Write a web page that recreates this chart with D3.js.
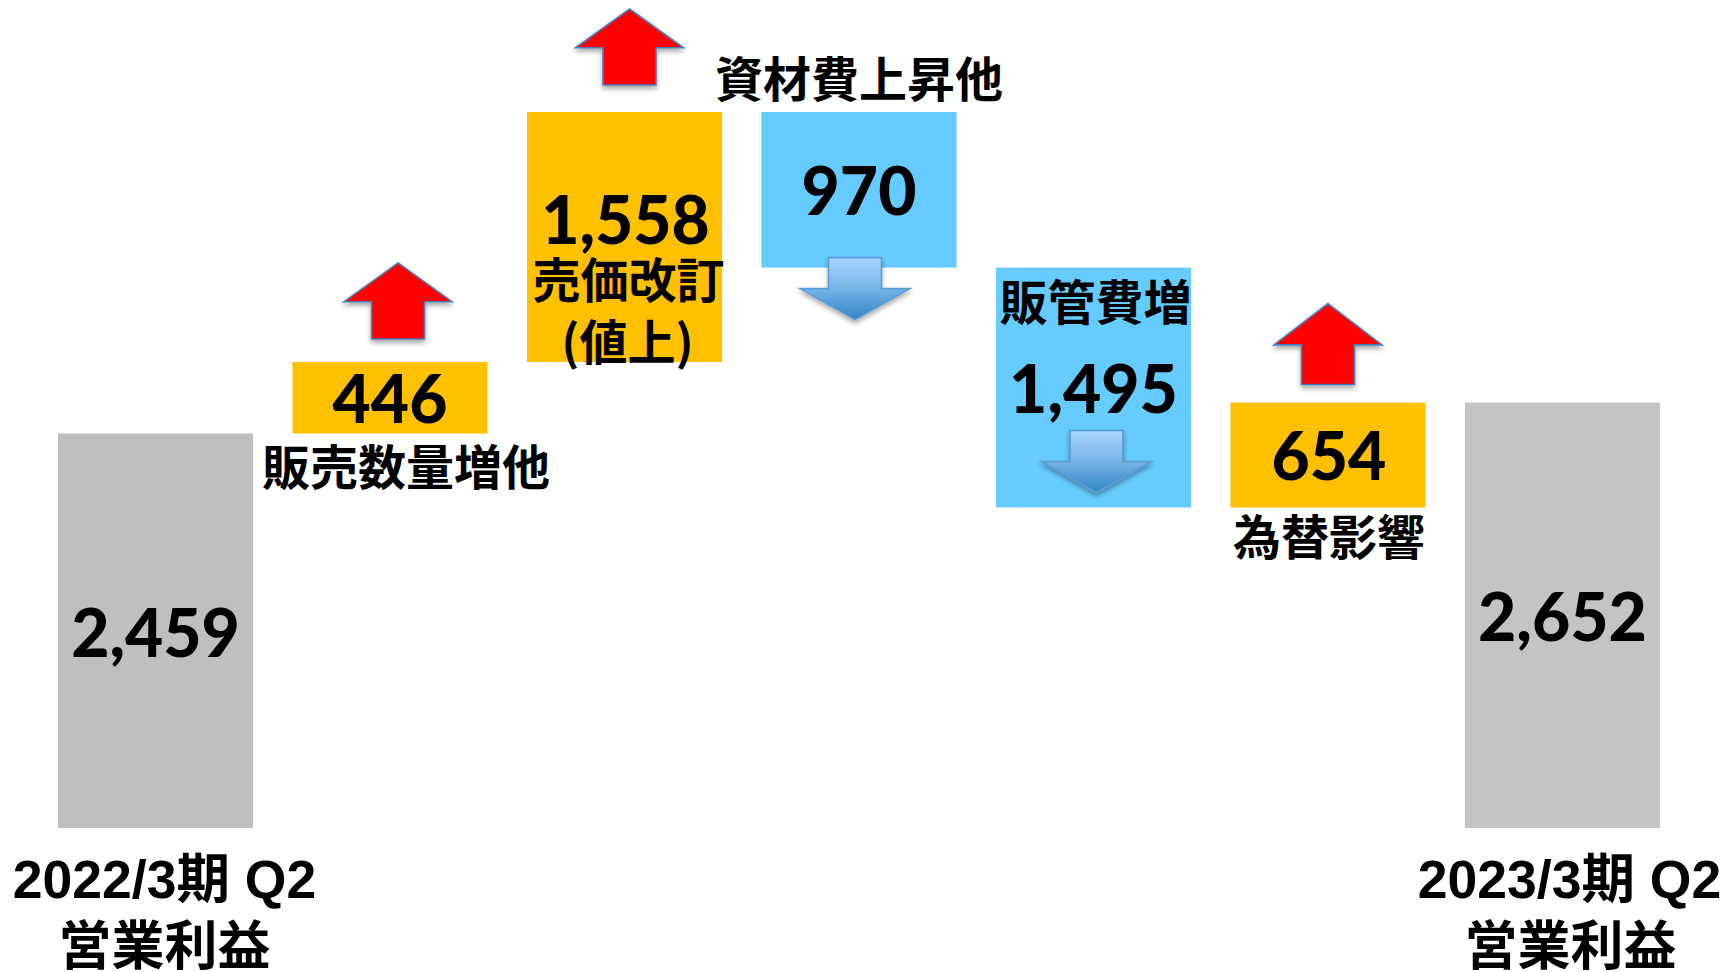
<!DOCTYPE html>
<html>
<head>
<meta charset="utf-8">
<script src="https://cdn.jsdelivr.net/npm/d3@7"></script>
<style>
  html, body { margin: 0; padding: 0; background: #ffffff; }
  svg { display: block; }
</style>
</head>
<body>
<svg id="chart" width="1726" height="972"></svg>
<script>
// ---------------- DATA ----------------
const categories = ["start", "volume", "price", "material", "sga", "fx", "end"];
const values     = [2459, 446, 1558, -970, -1495, 654, 2652];
const kinds      = ["total", "inc", "inc", "dec", "dec", "inc", "total"];
const valueLabels = ["2,459", "446", "1,558", "970", "1,495", "654", "2,652"];
const catLabels = [
  ["2022/3期 Q2", "営業利益"],
  ["販売数量増他"],
  ["売価改訂", "(値上)"],
  ["資材費上昇他"],
  ["販管費増"],
  ["為替影響"],
  ["2023/3期 Q2", "営業利益"]
];

// ---------------- LAYOUT ----------------
const W = 1726, H = 972;
const colors = { total: "#BFBFBF", totalEnd: "#C4C4C4", inc: "#FFC000", dec: "#66CCFF" };
const numFont = "Lato, 'Open Sans', sans-serif";
const cjkFont = "'Noto Sans CJK JP', 'Noto Sans', sans-serif";
const axisFont = "'Liberation Sans', Arial, 'Noto Sans CJK JP', sans-serif";

// compute waterfall segments
let run = 0;
const bars = categories.map((c, i) => {
  let y0, y1;
  if (kinds[i] === "total") { y0 = 0; y1 = values[i]; run = values[i]; }
  else { y0 = run; y1 = run + values[i]; run = y1; }
  return { cat: c, i, kind: kinds[i], lo: Math.min(y0, y1), hi: Math.max(y0, y1), label: valueLabels[i], text: catLabels[i] };
});
const maxV = d3.max(bars, d => d.hi);

const x = d3.scaleBand().domain(categories).range([58, 1660]).paddingInner(0.168).paddingOuter(0);
const y = d3.scaleLinear().domain([0, maxV]).range([828, 112]);

const svg = d3.select("#chart");
const defs = svg.append("defs");

const shadow = defs.append("filter").attr("id", "shadow").attr("x", "-30%").attr("y", "-30%").attr("width", "160%").attr("height", "170%");
shadow.append("feDropShadow").attr("dx", 0).attr("dy", 3).attr("stdDeviation", 2.5)
  .attr("flood-color", "#000").attr("flood-opacity", 0.35);

const grad = defs.append("linearGradient").attr("id", "blueGrad").attr("x1", 0).attr("y1", 0).attr("x2", 0).attr("y2", 1);
grad.append("stop").attr("offset", "0%").attr("stop-color", "#A8D4FF");
grad.append("stop").attr("offset", "45%").attr("stop-color", "#7DB8EA");
grad.append("stop").attr("offset", "100%").attr("stop-color", "#2F86C3");

// bars
svg.append("g").selectAll("rect").data(bars).join("rect")
  .attr("x", d => x(d.cat))
  .attr("y", d => y(d.hi))
  .attr("width", x.bandwidth())
  .attr("height", d => y(d.lo) - y(d.hi))
  .attr("fill", d => d.kind === "total" ? (d.i === 0 ? colors.total : colors.totalEnd) : colors[d.kind]);

// arrows (annotation layout)
const arrowLayout = {
  volume:   { dir: "up",   dx: 8,  off: 23, h: 76 },
  price:    { dir: "up",   dx: 5,  off: 27, h: 76 },
  material: { dir: "down", dx: -4, off: 10 },
  sga:      { dir: "down", dx: 3,  off: 77 },
  fx:       { dir: "up",   dx: 0,  off: 18, h: 81 }
};
function upArrow(cx, bottom, Ht) {
  const hh = Ht * 0.51, hw = 108, sw = 53, t = bottom - Ht;
  return `M${cx},${t} L${cx + hw/2},${t + hh} L${cx + sw/2},${t + hh} L${cx + sw/2},${bottom} L${cx - sw/2},${bottom} L${cx - sw/2},${t + hh} L${cx - hw/2},${t + hh} Z`;
}
function downArrow(cx, top) {
  const sh = 31, hh = 31, hw = 110, sw = 53;
  return `M${cx - sw/2},${top} L${cx + sw/2},${top} L${cx + sw/2},${top + sh} L${cx + hw/2},${top + sh} L${cx},${top + sh + hh} L${cx - hw/2},${top + sh} L${cx - sw/2},${top + sh} Z`;
}
const arrowData = bars.filter(d => arrowLayout[d.cat]);
svg.append("g").selectAll("path").data(arrowData).join("path")
  .attr("d", d => {
    const a = arrowLayout[d.cat];
    const cx = x(d.cat) + x.bandwidth() / 2 + a.dx;
    return a.dir === "up" ? upArrow(cx, y(d.hi) - a.off, a.h) : downArrow(cx, y(d.lo) - a.off);
  })
  .attr("fill", d => arrowLayout[d.cat].dir === "up" ? "#FF0000" : "url(#blueGrad)")
  .attr("stroke", d => arrowLayout[d.cat].dir === "up" ? "#4A7EBB" : "#5B9BD5")
  .attr("stroke-width", 1.6)
  .attr("filter", "url(#shadow)");

// text helpers: place by visual centre
const numSize = 66, cjkSize = 48;
function addText(g, str, cx, cy, size, family, ratio, weight) {
  g.append("text")
    .attr("x", cx).attr("y", cy + size * ratio)
    .attr("text-anchor", "middle")
    .attr("font-family", family).attr("font-weight", weight || 700)
    .attr("font-size", size).attr("fill", "#000")
    .text(str);
}
const tg = svg.append("g");
bars.forEach(d => {
  const cx = x(d.cat) + x.bandwidth() / 2;
  const top = y(d.hi), bot = y(d.lo), mid = (top + bot) / 2;
  const num = (s, xx, yy) => addText(tg, s, xx, yy, numSize, numFont, 0.36, 900);
  if (d.kind === "total") {
    num(d.label, cx, mid + 2);
    const o1 = d.i === 0 ? 9 : 7, o2 = d.i === 0 ? 9 : 8;
    addText(tg, d.text[0], cx + o1, 879, 53.5, axisFont, 0.36);
    addText(tg, d.text[1], cx + o2, 945, 53, cjkFont, 0.37);
  } else if (d.cat === "volume") {
    num(d.label, cx, mid + 2);
    addText(tg, d.text[0], cx + 16, bot + 34, cjkSize, cjkFont, 0.37);
  } else if (d.cat === "price") {
    num(d.label, cx + 1, bot - 142);
    addText(tg, d.text[0], cx + 4, bot - 82, cjkSize, cjkFont, 0.37);
    addText(tg, d.text[1], cx + 3, bot - 20, cjkSize, cjkFont, 0.37);
  } else if (d.cat === "material") {
    num(d.label, cx, mid + 1);
    addText(tg, d.text[0], cx, top - 33, cjkSize, cjkFont, 0.37);
  } else if (d.cat === "sga") {
    num(d.label, cx, mid + 2);
    addText(tg, d.text[0], cx + 2, top + 35, cjkSize, cjkFont, 0.37);
  } else if (d.cat === "fx") {
    num(d.label, cx + 1, mid + 1);
    addText(tg, d.text[0], cx + 1, bot + 30, cjkSize, cjkFont, 0.37);
  }
});
</script>
</body>
</html>
